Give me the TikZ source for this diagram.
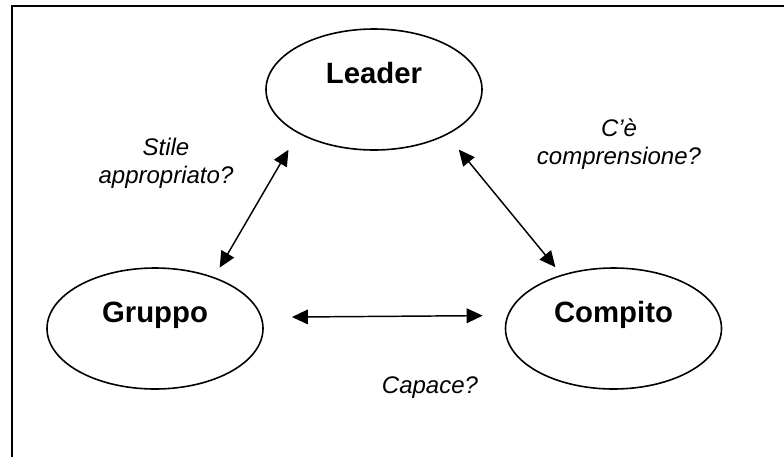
\documentclass[tikz,border=0pt]{standalone}
\usepackage{fontspec}
\setmainfont{Liberation Sans}
\usetikzlibrary{arrows.meta,shapes.geometric}

\begin{document}
\begin{tikzpicture}[x=0.75pt, y=-0.75pt, >={Triangle[length=12pt,width=11pt]},
  ruolo/.style={ellipse, draw, line width=1.2pt, minimum width=162pt, minimum height=90.75pt,
    inner sep=0pt, font=\fontsize{22}{26}\selectfont\bfseries, text height=15.8pt, text depth=24.2pt},
  domanda/.style={align=center, font=\fontsize{18}{20.7}\selectfont\itshape},
  freccia/.style={<->, line width=1.1pt}]
  \useasboundingbox (0,0) rectangle (784,457);
  % frame
  \draw[line width=1.6pt] (12,457) -- (12,6) -- (784,6);
  % roles
  \node[ruolo] (leader)  at (374,89.5)    {Leader};
  \node[ruolo] (gruppo)  at (155,328.5)   {Gruppo};
  \node[ruolo] (compito) at (613.5,328.5) {Compito};
  % links
  \draw[freccia, shorten <=14.2pt, shorten >=8.2pt] (leader.210.9) -- (gruppo.41.8);
  \draw[freccia, shorten <=14.1pt, shorten >=7.2pt] (leader.328.5) -- (compito.134.7);
  \draw[freccia, shorten <=22.5pt, shorten >=18.4pt] (gruppo.6.2) -- (compito.173.8);
  % questions
  \node[domanda] (stile) at (166,163) {Stile\\appropriato?};
  \node[domanda] (compr) at (619,144) {C’è\\comprensione?};
  \node[domanda, anchor=base] (capace) at (430,393) {Capace?};
\end{tikzpicture}
\end{document}
